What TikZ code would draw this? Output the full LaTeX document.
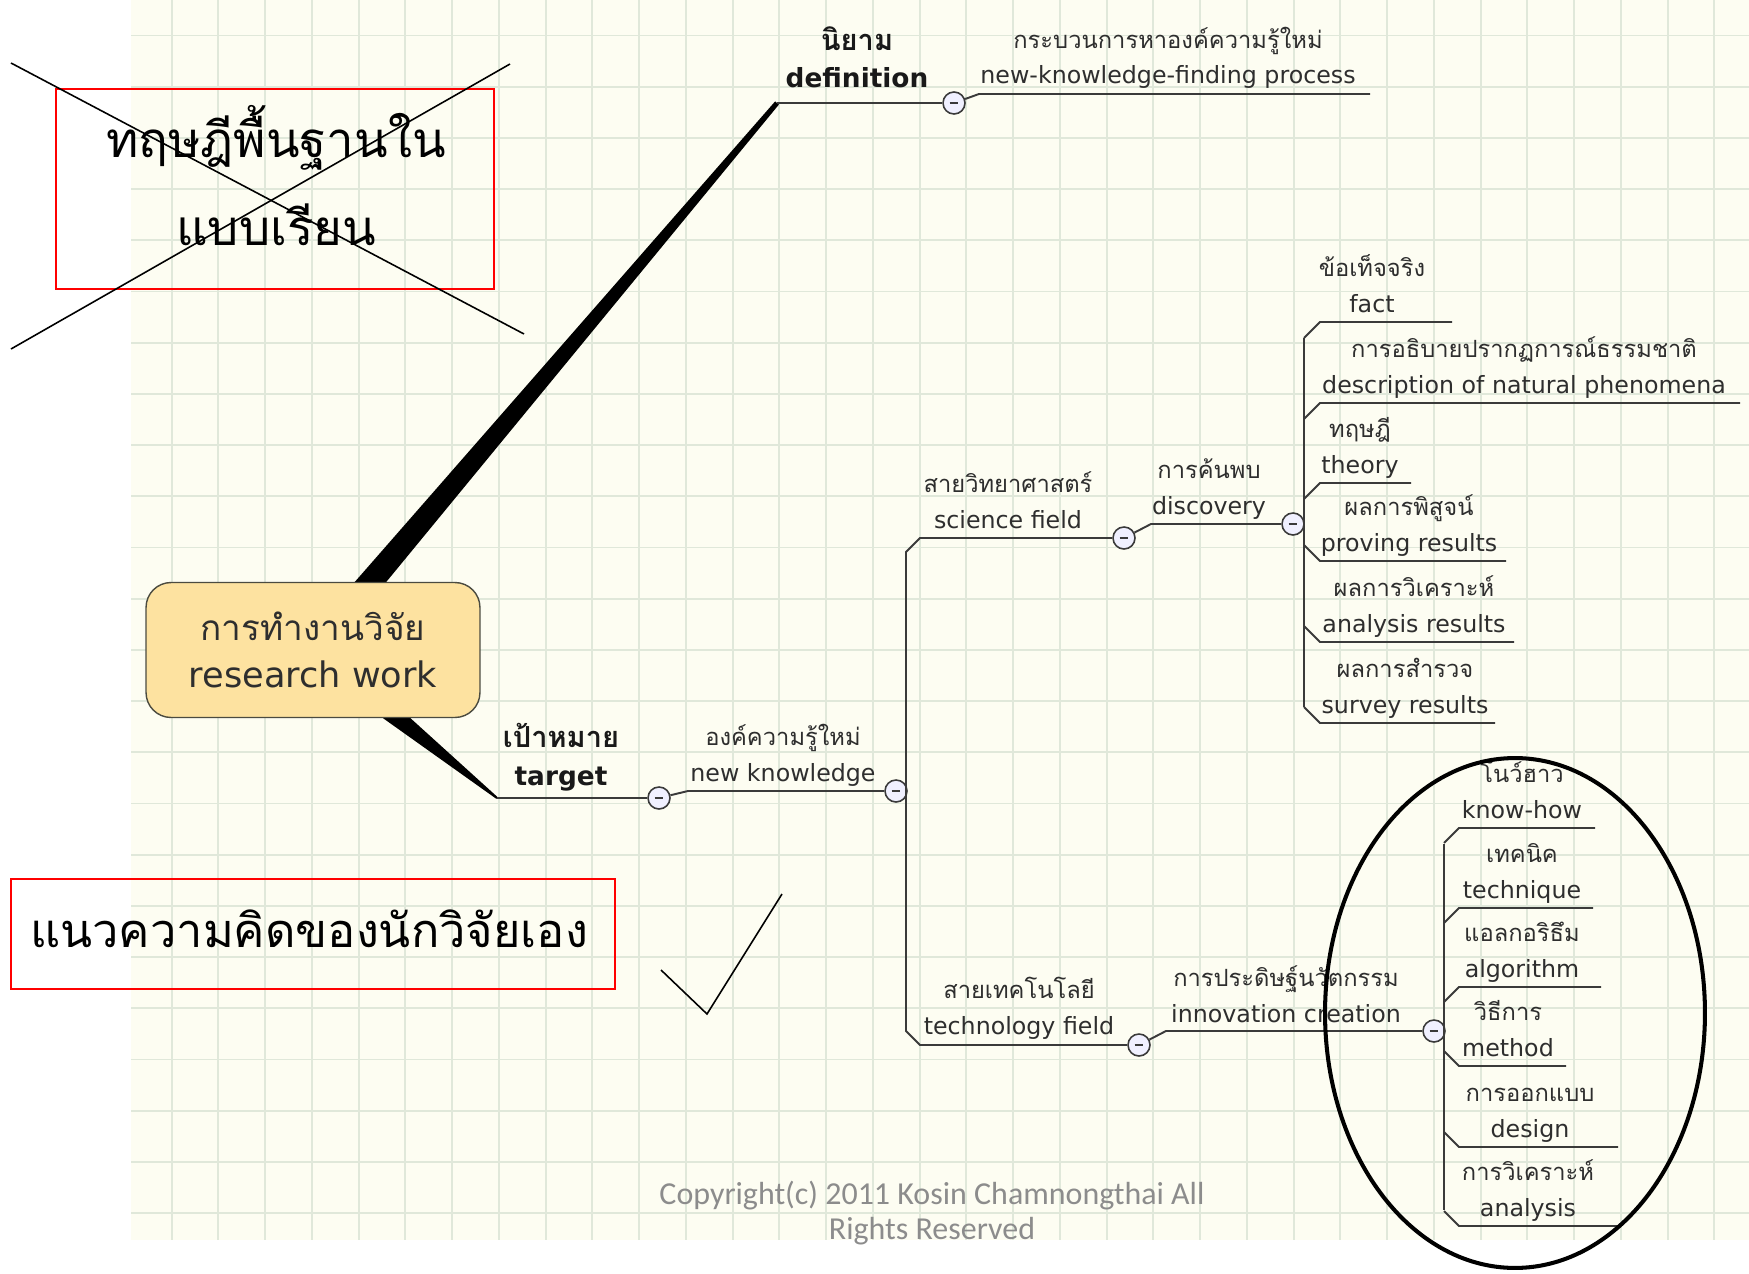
\documentclass[tikz,border=0pt]{standalone}
\usepackage{fontspec}
\setmainfont{DejaVu Sans}
\newfontfamily\thaifont[Script=Thai]{Loma}
\newfontfamily\copyfont{Carlito}
\usetikzlibrary{calc}

\definecolor{paper}{HTML}{FDFDF2}
\definecolor{gridgreen}{HTML}{E0E8DA}
\definecolor{topicfill}{HTML}{FDE2A0}
\definecolor{topicline}{HTML}{4B4B40}
\definecolor{branchgray}{HTML}{3A3A3A}
\definecolor{inkgray}{HTML}{2E2E2E}
\definecolor{copygray}{HTML}{8C8C8C}

\pgfdeclarelayer{back}
\pgfsetlayers{back,main}

\tikzset{
	gridline/.style={gridgreen, line width=1.1pt},
	branch/.style={branchgray, line width=1.1pt},
	wedge/.style={fill=black},
	tog/.style={circle, draw=branchgray, fill=white!94!blue, line width=0.9pt, minimum size=0.44cm, inner sep=0pt,
		path picture={\draw[branchgray, line width=1.6pt] (path picture bounding box.center) ++(-2.5pt,0) -- ++(5pt,0);}},
	topic/.style={draw=topicline, fill=topicfill, line width=0.8pt, rounded corners=0.5cm, minimum width=6.68cm, minimum height=2.7cm, align=center, text=inkgray, font=\fontsize{20}{27.2}\selectfont},
	leaf/.style={anchor=base, align=center, inner sep=0pt, text=inkgray, font=\fontsize{13.5}{20.4}\selectfont},
	boldleaf/.style={leaf, text=black!90, font=\bfseries\fontsize{15}{21.5}\selectfont},
	redbox/.style={draw=red, line width=1.1pt},
	bigthai/.style={anchor=base, align=center, inner sep=0pt, font=\thaifont\fontsize{28}{50}\selectfont},
	cross/.style={black, line width=0.9pt},
	copyright/.style={anchor=base, align=center, text=copygray, font=\copyfont\fontsize{18.2}{19.6}\selectfont}
}

\begin{document}
\begin{tikzpicture}[x=0.02cm, y=-0.02cm]
	\useasboundingbox (0,0) rectangle (1749,1274);

	%CENTRE
	\node[topic] (rw) at (313,650) {{\thaifont การทำงานวิจัย}\\research work};
	\coordinate (deftip) at (777,103);
	\coordinate (tartip) at (497,798);

	%PAPER, GRID AND THICK BRANCHES
	\begin{pgfonlayer}{back}
	\fill[paper] (131,0) rectangle (1749,1240);
	\foreach \k in {0,...,33}
		\draw[gridline] ({171.7+46.75*\k},0) -- ++(0,1240);
	\foreach \k in {0,...,23}
		\draw[gridline] (131,{35.5+51.2*\k}) -- (1749,{35.5+51.2*\k});
	\fill[wedge] ($(rw.center)!7.6pt!90:(deftip)$) -- ($(deftip)!1.4pt!-90:(rw.center)$) -- ($(deftip)!1.4pt!90:(rw.center)$) -- ($(rw.center)!7.6pt!-90:(deftip)$) -- cycle;
	\fill[wedge] ($(rw.center)!8.5pt!90:(tartip)$) -- ($(tartip)!0.6pt!-90:(rw.center)$) -- ($(tartip)!0.6pt!90:(rw.center)$) -- ($(rw.center)!8.5pt!-90:(tartip)$) -- cycle;
	\end{pgfonlayer}

	%DEFINITION
	\node[tog] (cdef) at (954,103) {};
	\coordinate (procu) at (979,94);
	\coordinate (proce) at (1370,94);
	\draw[branch] (deftip) -- (cdef);
	\draw[branch] (cdef) -- (procu) -- (proce);
	\node[boldleaf] (defn) at (857,88) {{\thaifont\fontsize{16.5}{21.5}\selectfont นิยาม}\\definition};
	\node[leaf] (proc) at (1168,84) {{\thaifont กระบวนการหาองค์ความรู้ใหม่}\\new-knowledge-finding process};

	%TARGET
	\node[tog] (ctar) at (659,798) {};
	\coordinate (nku) at (688,791);
	\node[tog] (cnk) at (896,791) {};
	\draw[branch] (tartip) -- (ctar);
	\draw[branch] (ctar) -- (nku) -- (cnk);
	\node[boldleaf] (targ) at (561,785) {{\thaifont\fontsize{16.5}{21.5}\selectfont เป้าหมาย}\\target};
	\node[leaf] (nknow) at (783,781) {{\thaifont องค์ความรู้ใหม่}\\new knowledge};

	%FIELDS
	\coordinate (sciu) at (920,538);
	\coordinate (techu) at (920,1045);
	\node[tog] (csci) at (1124,538) {};
	\node[tog] (ctech) at (1139,1045) {};
	\draw[branch] (csci) -- (sciu) -- ++(-14,14) -- ($(techu)+(-14,-14)$) -- (techu) -- (ctech);
	\node[leaf] (sci) at (1008,528) {{\thaifont สายวิทยาศาสตร์}\\science field};
	\node[leaf] (techf) at (1019,1034) {{\thaifont สายเทคโนโลยี}\\technology field};

	%DISCOVERY
	\coordinate (disu) at (1151,524);
	\node[tog] (cdis) at (1293,524) {};
	\draw[branch] (csci) -- (disu) -- (cdis);
	\node[leaf] (disc) at (1209,514) {{\thaifont การค้นพบ}\\discovery};
	\draw[branch] (1304,338) -- (1304,707);
	\foreach \n/\y/\r/\x/\s/\th/\en in {
		fact/322/1452/1372/1/ข้อเท็จจริง/fact,
		desc/403/1740/1524/1/การอธิบายปรากฏการณ์ธรรมชาติ/description of natural phenomena,
		theo/483/1411/1360/1/ทฤษฎี/theory,
		prov/561/1506/1409/-1/ผลการพิสูจน์/proving results,
		anres/642/1514/1414/-1/ผลการวิเคราะห์/analysis results,
		surv/723/1495/1405/-1/ผลการสำรวจ/survey results}{
		\coordinate (\n-a) at (1320,\y);
		\coordinate (\n-b) at (\r,\y);
		\draw[branch] (1304,\y+\s*16) -- (\n-a) -- (\n-b);
		\node[leaf] (\n) at (\x,\y-10) {{\thaifont \th}\\\en};
	}

	%INNOVATION
	\coordinate (innu) at (1166,1031);
	\node[tog] (cinn) at (1434,1031) {};
	\draw[branch] (ctech) -- (innu) -- (cinn);
	\node[leaf] (innov) at (1286,1022) {{\thaifont การประดิษฐ์นวัตกรรม}\\innovation creation};
	\draw[branch] (1444,844) -- (1444,1210);
	\foreach \n/\y/\r/\x/\s/\th/\en in {
		know/828/1595/1522/1/โนว์ฮาว/know-how,
		tech/908/1593/1522/1/เทคนิค/technique,
		algo/987/1601/1522/1/แอลกอริธึม/algorithm,
		meth/1066/1566/1508/-1/วิธีการ/method,
		desg/1147/1618/1530/-1/การออกแบบ/design,
		anly/1226/1617/1528/-1/การวิเคราะห์/analysis}{
		\coordinate (\n-a) at (1459,\y);
		\coordinate (\n-b) at (\r,\y);
		\draw[branch] (1444,\y+\s*15) -- (\n-a) -- (\n-b);
		\node[leaf] (\n) at (\x,\y-10) {{\thaifont \th}\\\en};
	}

	%NOTES
	\node[redbox, minimum width=8.78cm, minimum height=4cm] (basic) at (275,189) {};
	\node[bigthai] (basictxt) at (276,245) {ทฤษฎีพื้นฐานใน\\แบบเรียน};
	\draw[cross] (11,63) -- (524,334);
	\draw[cross] (11,349) -- (510,64);
	\node[redbox, minimum width=12.1cm, minimum height=2.2cm] (own) at (313,934) {};
	\node[bigthai, font=\thaifont\fontsize{26.7}{30}\selectfont] (owntxt) at (309,947) {แนวความคิดของนักวิจัยเอง};
	\draw[cross] (661,970) -- (707,1014) -- (782,894);
	\draw[black, line width=2.3pt] (1515,1013) ellipse [x radius=3.8cm, y radius=5.1cm];

	%COPYRIGHT
	\node[copyright] (cpy) at (932,1239) {Copyright(c) 2011 Kosin Chamnongthai All\\Rights Reserved};
\end{tikzpicture}
\end{document}
